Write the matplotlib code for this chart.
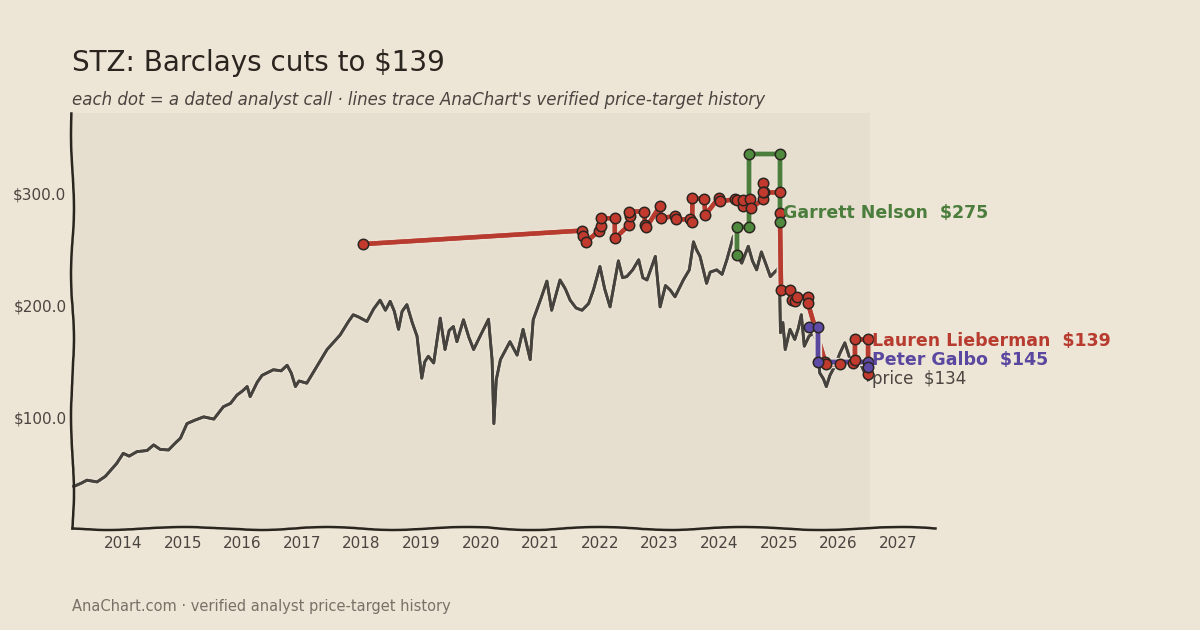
import numpy as np
import matplotlib
matplotlib.use("Agg")
import matplotlib.pyplot as plt
import matplotlib.patheffects as pe

# closing price (decimal year, $)
price_dates = [2013.17, 2013.30, 2013.39, 2013.56, 2013.70, 2013.89, 2014.00, 2014.10, 2014.23, 2014.40,
               2014.51, 2014.62, 2014.76, 2014.88, 2014.96, 2015.07, 2015.20, 2015.35, 2015.52, 2015.68,
               2015.80, 2015.91, 2016.00, 2016.08, 2016.13, 2016.25, 2016.33, 2016.52, 2016.65, 2016.75,
               2016.82, 2016.89, 2016.95, 2017.08, 2017.25, 2017.42, 2017.59, 2017.64, 2017.78, 2017.86,
               2017.95, 2018.09, 2018.20, 2018.31, 2018.40, 2018.48, 2018.55, 2018.62, 2018.68, 2018.76,
               2018.85, 2018.93, 2019.01, 2019.06, 2019.12, 2019.21, 2019.32, 2019.40, 2019.47, 2019.54,
               2019.60, 2019.71, 2019.80, 2019.88, 2019.99, 2020.13, 2020.19, 2020.22, 2020.26, 2020.33,
               2020.41, 2020.49, 2020.61, 2020.71, 2020.83, 2020.88, 2021.02, 2021.11, 2021.19, 2021.33,
               2021.42, 2021.50, 2021.60, 2021.70, 2021.81, 2021.89, 2022.00, 2022.08, 2022.17, 2022.31,
               2022.38, 2022.45, 2022.55, 2022.65, 2022.72, 2022.79, 2022.93, 2023.01, 2023.10, 2023.18,
               2023.26, 2023.40, 2023.50, 2023.57, 2023.62, 2023.68, 2023.79, 2023.85, 2023.96, 2024.05,
               2024.13, 2024.24, 2024.30, 2024.38, 2024.49, 2024.56, 2024.63, 2024.71, 2024.80, 2024.86,
               2024.97, 2025.01, 2025.03, 2025.07, 2025.11, 2025.19, 2025.27, 2025.33, 2025.38, 2025.43,
               2025.51, 2025.60, 2025.66, 2025.69, 2025.75, 2025.80, 2025.86, 2025.94, 2026.03, 2026.11,
               2026.20, 2026.31, 2026.36, 2026.42, 2026.50]
price_vals = [39, 42, 44.6, 43, 48, 59.5, 68.5, 66, 70, 71,
              76, 72, 71.5, 78, 82, 95, 98, 101, 99, 110,
              113, 120.5, 124, 128, 119, 132, 138, 143, 142, 147,
              140, 128, 133, 131, 146, 161, 171, 174, 186, 192,
              190, 186, 197, 205, 196, 204, 195, 179, 195, 201,
              185, 173, 135.5, 150, 155, 149, 189, 161, 178, 181.5,
              168, 187.5, 172, 161, 173, 188, 152, 95, 134, 152,
              160, 168, 156, 179, 152, 187.5, 208, 222, 196, 223,
              215, 205, 198, 196, 202, 214, 235, 215, 199, 240,
              225, 226, 232, 241, 225, 223, 244, 199, 218, 214,
              208, 223, 232, 257, 250, 244, 220, 230, 232, 228,
              241, 262, 245, 238, 253, 240, 232, 248, 235, 226,
              232, 235, 176, 185, 161, 179, 170, 180, 192, 164,
              173, 176, 155, 140, 135, 128, 138, 146, 158, 167,
              152, 158, 150, 143, 134]

# Lauren Lieberman (Barclays)
red_dates = [2018.03, 2021.70, 2021.71, 2021.77, 2021.99, 2022.01, 2022.01, 2022.25, 2022.25, 2022.49,
             2022.50, 2022.48, 2022.74, 2022.76, 2022.78, 2023.01, 2023.02, 2023.26, 2023.28, 2023.51,
             2023.55, 2023.55, 2023.75, 2023.77, 2023.99, 2024.01, 2024.27, 2024.30, 2024.40, 2024.40,
             2024.52, 2024.54, 2024.74, 2024.74, 2024.75, 2024.74, 2025.02, 2025.02, 2025.04, 2025.19,
             2025.22, 2025.27, 2025.30, 2025.49, 2025.49, 2025.78, 2025.80, 2026.03, 2026.25, 2026.28,
             2026.28, 2026.50, 2026.50]
red_vals = [255, 267, 262, 257, 267, 271, 278, 278, 260, 272,
            280, 284, 284, 272, 270, 289, 278, 280, 277, 277,
            275, 296, 295, 281, 296, 293, 295, 294.6, 289, 294.6,
            295, 287, 295, 309.5, 301, 301, 301, 283, 214, 214,
            205, 204, 208, 208, 202.4, 150, 148, 148, 149.4, 152,
            170, 170, 139]

# Garrett Nelson
green_dates = [2024.30, 2024.30, 2024.51, 2024.51, 2025.02, 2025.02]
green_vals = [245.5, 270, 270, 335.7, 335.7, 275]

# Peter Galbo
purple_dates = [2025.51, 2025.66, 2025.66, 2026.50, 2026.50]
purple_vals = [181.5, 181.5, 150, 150, 145]

analysts = [
    ("Lauren Lieberman", red_dates, red_vals, "#b83b30", "#c23a2e", 139),
    ("Garrett Nelson", green_dates, green_vals, "#4b7d3c", "#4f8a3f", 275),
    ("Peter Galbo", purple_dates, purple_vals, "#5a479f", "#5e4ba8", 145),
]

year_ticks = list(range(2014, 2028))
price_ticks = [100, 200, 300]

bg = "#ede5d5"
ink = "#2b2520"
muted = "#4a4540"

plt.rcParams['font.family'] = ['DejaVu Sans']

fig = plt.figure(figsize=(12, 6.3), dpi=100, facecolor=bg)
ax = fig.add_axes([0.06, 0.162, 0.719, 0.659])
ax.set_facecolor(bg)

ax.set_xlim(2013.14, 2027.62)
ax.set_ylim(2, 372)

# shaded data region
ax.axvspan(2013.14, price_dates[-1] + 0.03, color="#e6dfd0", zorder=0, lw=0)

halo = [pe.withStroke(linewidth=5, foreground="#e9e2d3"), pe.Normal()]
ax.plot(price_dates, price_vals, color="#46433f", lw=2.0, zorder=2,
        path_effects=halo, solid_joinstyle="round")

for name, d, v, lc, mc, last in analysts:
    ax.plot(d, v, color=lc, lw=3.2, zorder=3, alpha=0.95, solid_capstyle="round",
            path_effects=[pe.withStroke(linewidth=6, foreground="#e9e2d3"), pe.Normal()])
    ax.plot(d, v, ls="none", marker="o", ms=7.5, mfc=mc, mec=ink, mew=1.1, zorder=4)

# end labels
ax.text(2025.07, 283, "Garrett Nelson  $275", color="#4b7d3c", fontsize=12.5,
        fontweight="bold", va="center", ha="left", zorder=5)
ax.text(2026.57, 168.5, "Lauren Lieberman  $139", color="#b83b30", fontsize=12.5,
        fontweight="bold", va="center", ha="left", zorder=5, clip_on=False)
ax.text(2026.57, 151.5, "Peter Galbo  $145", color="#5a479f", fontsize=12.5,
        fontweight="bold", va="center", ha="left", zorder=5, clip_on=False)
ax.text(2026.57, 134.5, "price  $134", color=muted, fontsize=12,
        va="center", ha="left", zorder=5, clip_on=False)

ax.set_xticks(year_ticks)
ax.set_xticklabels([str(y) for y in year_ticks])
ax.set_yticks(price_ticks)
ax.set_yticklabels([f"${p:.1f}" for p in price_ticks])
ax.tick_params(axis="x", length=0, labelsize=11, colors=muted, pad=6)
ax.tick_params(axis="y", length=0, labelsize=11, colors=muted, pad=4)

for s in ["top", "right"]:
    ax.spines[s].set_visible(False)
for s in ["left", "bottom"]:
    ax.spines[s].set_color(ink)
    ax.spines[s].set_linewidth(1.8)
    ax.spines[s].set_sketch_params(scale=1.5, length=180, randomness=3)

fig.text(0.06, 1 - 63 / 630, "STZ: Barclays cuts to $139", fontsize=20, color=ink, va="center", ha="left")
fig.text(0.06, 1 - 100 / 630, "each dot = a dated analyst call · lines trace AnaChart's verified price-target history",
         fontsize=12, style="italic", color=muted, va="center", ha="left")
fig.text(0.06, 1 - 606 / 630, "AnaChart.com · verified analyst price-target history",
         fontsize=10.5, color="#7a7068", va="center", ha="left")

fig.savefig("out.png", dpi=100, facecolor=bg)
